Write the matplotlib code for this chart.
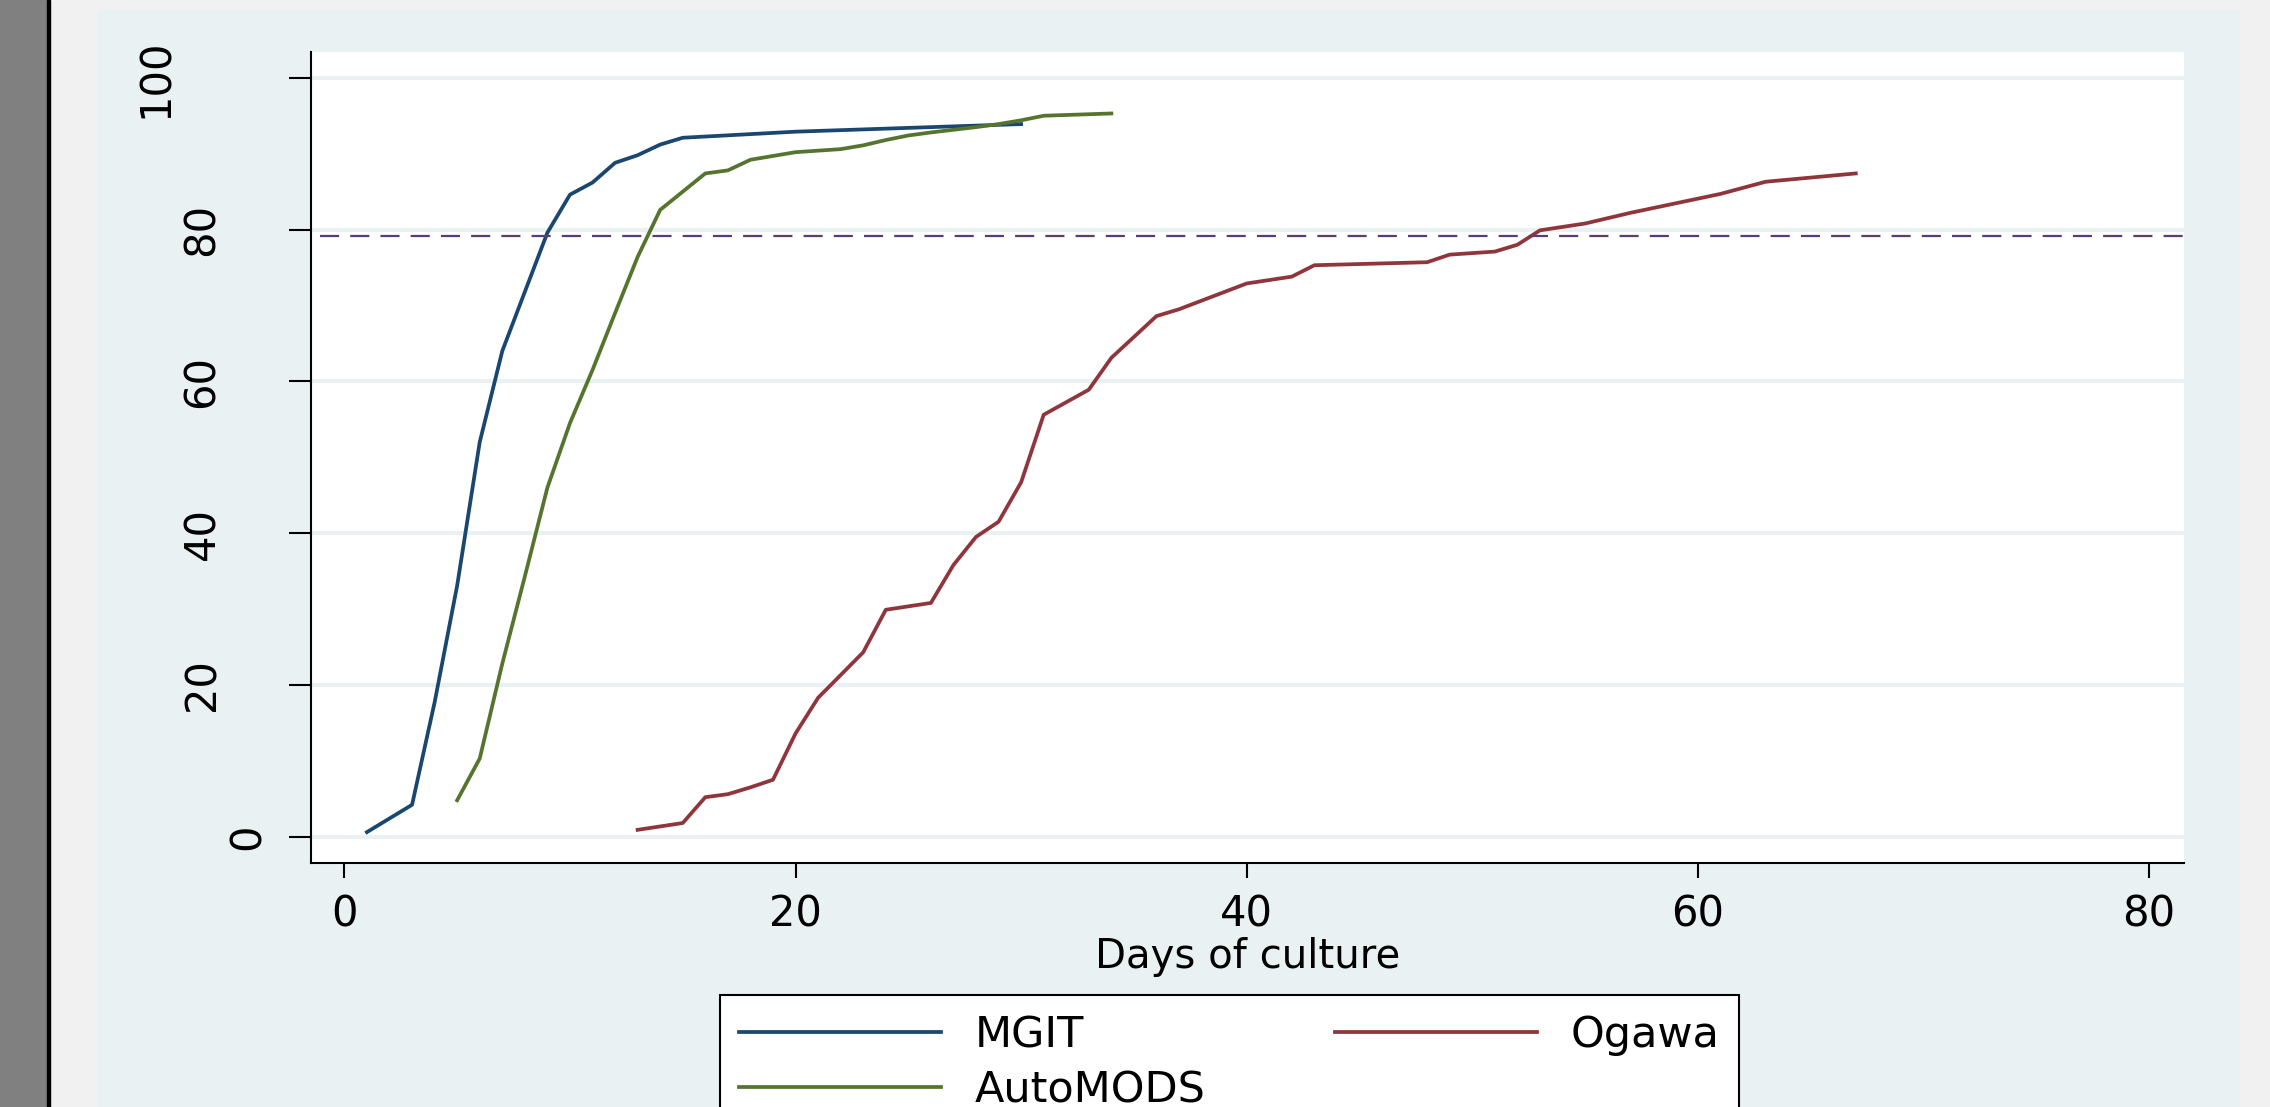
import matplotlib.pyplot as plt
import matplotlib.transforms as mtransforms
from matplotlib.patches import Rectangle

# cumulative % positive by day of culture
mgit_days = [1, 3, 4, 5, 6, 7, 8, 9, 10, 11, 12, 13, 14, 15, 20, 30]
mgit_pct = [0.6, 4.2, 17.7, 33.1, 52.0, 64.0, 71.8, 79.6, 84.6, 86.2, 88.8, 89.8, 91.2, 92.1, 92.9, 93.9]

automods_days = [5, 6, 7, 8, 9, 10, 11, 12, 13, 14, 15, 16, 17, 18, 19, 20, 22, 23, 24, 25, 26, 28, 29, 30, 31, 34]
automods_pct = [4.8, 10.3, 22.8, 34.3, 46.0, 54.5, 61.5, 69.0, 76.4, 82.6, 85.0, 87.4, 87.8, 89.2, 89.7, 90.2,
                90.6, 91.1, 91.8, 92.4, 92.8, 93.5, 93.9, 94.4, 95.0, 95.3]

ogawa_days = [13, 15, 16, 17, 18, 19, 20, 21, 23, 24, 26, 27, 28, 29, 30, 31, 33, 34, 36, 37, 40, 42, 43,
              48, 49, 51, 52, 53, 55, 57, 61, 63, 67]
ogawa_pct = [0.9, 1.8, 5.2, 5.6, 6.5, 7.5, 13.6, 18.3, 24.3, 29.9, 30.8, 35.8, 39.5, 41.5, 46.7, 55.6, 58.9,
             63.1, 68.6, 69.5, 72.9, 73.8, 75.3, 75.7, 76.7, 77.1, 78.0, 79.9, 80.8, 82.2, 84.7, 86.3, 87.4]

ref_level = 79.1

xticks = [0, 20, 40, 60, 80]
yticks = [0, 20, 40, 60, 80, 100]
ytick_labels = ['0', '20', '40', '60', '80', '100']
xlabel = 'Days of culture'
series_names = ['MGIT', 'AutoMODS', 'Ogawa']

# stata s2color-ish palette
navy = '#1a476f'
green = '#55752f'
maroon = '#90353b'
region = '#eaf1f3'

W, H = 2270, 1107
plt.rcParams['font.family'] = ['DejaVu Sans']

fig = plt.figure(figsize=(W / 100, H / 100), dpi=100, facecolor='#f1f1f1')

# window-ish frame bits on the left and the graph region
fig.add_artist(Rectangle((0, 0), 47 / W, 1, transform=fig.transFigure, color='#808080', zorder=-10))
fig.add_artist(Rectangle((47 / W, 0), 2.5 / W, 1, transform=fig.transFigure, color='black', zorder=-9))
fig.add_artist(Rectangle((98 / W, 0), (2239 - 98) / W, (H - 10) / H, transform=fig.transFigure,
                         color=region, zorder=-10))

left, right, top, bottom = 311, 2184, 52, 863
ax = fig.add_axes([left / W, (H - bottom) / H, (right - left) / W, (bottom - top) / H])
ax.set_facecolor('white')

lw = 2.7
ax.plot(mgit_days, mgit_pct, color=navy, lw=lw, label=series_names[0])
ax.plot(automods_days, automods_pct, color=green, lw=lw, label=series_names[1])
ax.plot(ogawa_days, ogawa_pct, color=maroon, lw=lw, label=series_names[2])
ax.axhline(ref_level, xmin=0.005, xmax=1.002, color='#5a3d6e', lw=1.6, dashes=(8.6, 5.0), clip_on=False)

ax.set_xlim(-1.48, 81.55)
ax.set_ylim(-3.47, 103.4)

for s in ['top', 'right']:
    ax.spines[s].set_visible(False)
for s in ['left', 'bottom']:
    ax.spines[s].set_linewidth(1.5)

ax.yaxis.grid(True, color=region, lw=2.9)
ax.set_axisbelow(True)

ax.set_xticks(xticks)
ax.set_xticklabels([str(t) for t in xticks], fontsize=30)
ax.tick_params(axis='x', length=11, width=1.5, pad=11)

ax.set_yticks(yticks)
ax.set_yticklabels([])
ax.tick_params(axis='y', length=15.5, width=1.5)
trans = mtransforms.blended_transform_factory(ax.transAxes, ax.transData)
for val, lab in zip(yticks, ytick_labels):
    cx = 248 - 46 * (len(lab) - 1)
    ax.text((cx - left) / (right - left), val, lab, transform=trans, rotation=90,
            ha='center', va='center', fontsize=30)

ax.set_xlabel(xlabel, fontsize=29, va='baseline')
ax.xaxis.set_label_coords(0.5, (bottom - 968) / (bottom - top))

leg = ax.legend(ncols=2, loc='upper left', bbox_to_anchor=(719.6 / W, (H - 995) / H),
                bbox_transform=fig.transFigure, fontsize=31, frameon=True, fancybox=False,
                edgecolor='black', facecolor='white', framealpha=1,
                borderpad=0.45, labelspacing=0.3, handlelength=4.7, handletextpad=0.78,
                columnspacing=3.0, borderaxespad=0)
leg.get_frame().set_linewidth(1.5)

fig.savefig('out.png', dpi=100, facecolor=fig.get_facecolor())
